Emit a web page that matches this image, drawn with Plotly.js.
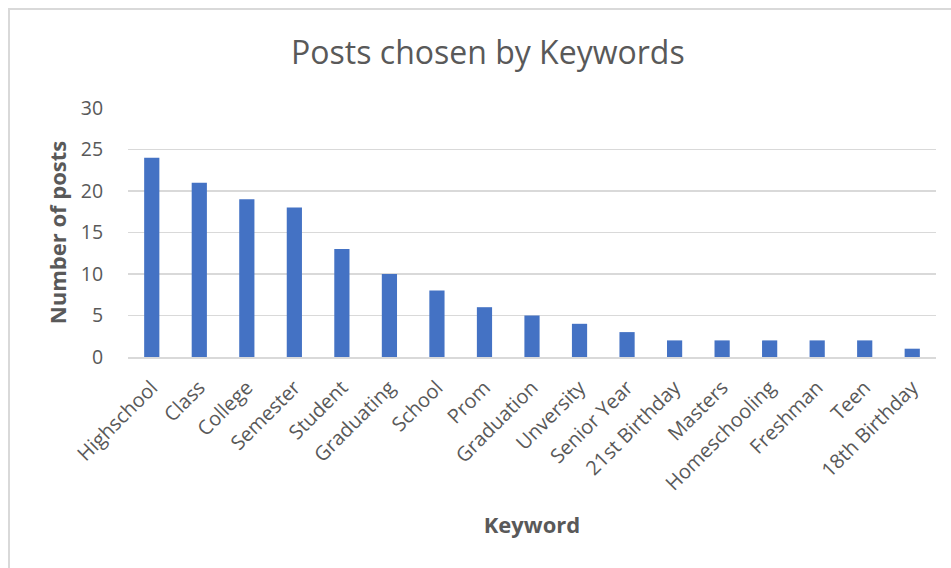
<!DOCTYPE html>
<html>
<head>
<meta charset="utf-8">
<script src="https://cdn.plot.ly/plotly-3.0.1.min.js"></script>
<style>
html,body{margin:0;padding:0;overflow:hidden;background:#fff;}
#chart{position:absolute;left:0;top:0;width:951px;height:568px;}
#frame{position:absolute;left:8px;top:8px;width:1000px;height:1000px;border:2px solid #d9d9d9;pointer-events:none;}
</style>
</head>
<body>
<div id="chart"></div>
<div id="frame"></div>
<script>
const keywords = ["Highschool","Class","College","Semester","Student","Graduating","School","Prom","Graduation","Unversity","Senior Year","21st Birthday","Masters","Homeschooling","Freshman","Teen","18th Birthday"];
const posts = [24,21,19,18,13,10,8,6,5,4,3,2,2,2,2,2,1];
const yTicks = [0,5,10,15,20,25,30];

const font = "Open Sans, Lato, sans-serif";
const grey = "#595959";

Plotly.newPlot("chart", [{
  type: "bar",
  x: keywords,
  y: posts,
  marker: {color: "#4472c4"},
  hoverinfo: "x+y"
}], {
  width: 951, height: 568,
  margin: {l: 128, r: 15, t: 108, b: 211},
  paper_bgcolor: "#fff",
  plot_bgcolor: "#fff",
  bargap: 0.68,
  showlegend: false,
  title: {text: "Posts chosen by Keywords", font: {family: font, size: 32, color: grey}, x: 0.513, xref: "container", xanchor: "center", y: 0.907, yref: "container", yanchor: "middle"},
  xaxis: {
    type: "category",
    tickangle: -45,
    tickfont: {family: font, size: 20, color: grey},
    ticks: "outside", ticklen: 9, tickcolor: "rgba(0,0,0,0)",
    showline: true, linecolor: "#d9d9d9", linewidth: 2,
    showgrid: false,
    title: {text: "Keyword", font: {family: font, size: 22, color: grey, weight: "bold"}, standoff: 23}
  },
  yaxis: {
    range: [0, 30],
    tickvals: yTicks,
    tickfont: {family: font, size: 19.5, color: grey},
    ticks: "outside", ticklen: 20, tickcolor: "rgba(0,0,0,0)",
    showgrid: true, gridcolor: "#d9d9d9", gridwidth: 1.5,
    zeroline: false, showline: false,
    title: {text: "Number of posts", font: {family: font, size: 22, color: grey, weight: "bold"}, standoff: 8}
  }
}, {displayModeBar: false, staticPlot: true});
</script>
</body>
</html>
